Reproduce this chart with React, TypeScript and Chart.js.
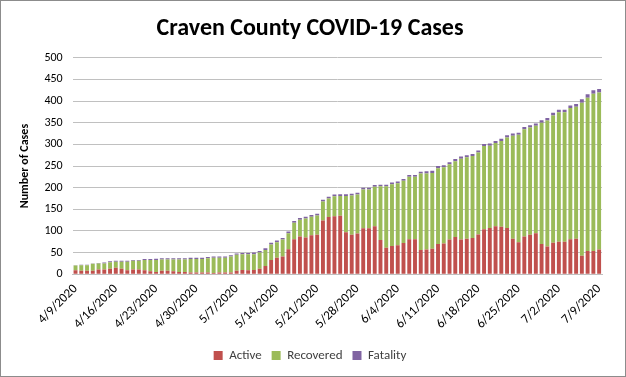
import React, { useEffect, useRef } from "react";
import { Chart, registerables } from "chart.js";

Chart.register(...registerables);

const dates: string[] = [
  "4/9/2020","4/10/2020","4/11/2020","4/12/2020","4/13/2020","4/14/2020","4/15/2020",
  "4/16/2020","4/17/2020","4/18/2020","4/19/2020","4/20/2020","4/21/2020","4/22/2020",
  "4/23/2020","4/24/2020","4/25/2020","4/26/2020","4/27/2020","4/28/2020","4/29/2020",
  "4/30/2020","5/1/2020","5/2/2020","5/3/2020","5/4/2020","5/5/2020","5/6/2020",
  "5/7/2020","5/8/2020","5/9/2020","5/10/2020","5/11/2020","5/12/2020","5/13/2020",
  "5/14/2020","5/15/2020","5/16/2020","5/17/2020","5/18/2020","5/19/2020","5/20/2020",
  "5/21/2020","5/22/2020","5/23/2020","5/24/2020","5/25/2020","5/26/2020","5/27/2020",
  "5/28/2020","5/29/2020","5/30/2020","5/31/2020","6/1/2020","6/2/2020","6/3/2020",
  "6/4/2020","6/5/2020","6/6/2020","6/7/2020","6/8/2020","6/9/2020","6/10/2020",
  "6/11/2020","6/12/2020","6/13/2020","6/14/2020","6/15/2020","6/16/2020","6/17/2020",
  "6/18/2020","6/19/2020","6/20/2020","6/21/2020","6/22/2020","6/23/2020","6/24/2020",
  "6/25/2020","6/26/2020","6/27/2020","6/28/2020","6/29/2020","6/30/2020","7/1/2020",
  "7/2/2020","7/3/2020","7/4/2020","7/5/2020","7/6/2020","7/7/2020","7/8/2020",
  "7/9/2020"
];

const active: number[] = [
  9, 8, 8, 8, 11, 11, 13, 15, 13, 9, 11, 11, 9, 7, 5, 8,
  8, 7, 5, 5, 4, 4, 4, 4, 3, 4, 4, 4, 8, 10,
  9, 10, 13, 19, 33, 38, 41, 58, 81, 87, 85, 90, 91, 124, 132, 134, 135,
  97, 91, 94, 106, 106, 111, 79, 61, 65, 67, 72, 81, 81, 56,
  57, 59, 70, 71, 80, 86, 80, 82, 84, 92, 104, 107, 111, 110, 107,
  82, 74, 87, 91, 95, 70, 64, 73, 75, 75, 81, 82, 43, 54, 54, 57
];

const totals: number[] = [
  21, 22, 22, 25, 26, 27, 30, 31, 31, 31, 33, 33, 35, 35, 36, 37,
  37, 37, 37, 37, 38, 38, 38, 40, 41, 41, 41, 44, 48, 49,
  49, 50, 54, 60, 73, 78, 84, 99, 123, 130, 133, 137, 140, 172, 179, 184, 185,
  185, 186, 188, 200, 200, 206, 207, 207, 212, 214, 220, 229, 229, 237,
  238, 239, 250, 252, 259, 266, 272, 275, 278, 286, 301, 302, 308, 313, 321,
  325, 327, 340, 344, 348, 356, 361, 373, 380, 380, 390, 393, 404, 416, 425, 428
];

const fatality: number[] = [
  1, 1, 1, 1, 1, 2, 2, 2, 2, 2, 2, 2, 2, 2, 3, 3,
  3, 3, 3, 3, 3, 3, 3, 3, 3, 3, 3, 3, 3, 3,
  3, 4, 4, 4, 4, 4, 4, 4, 4, 4, 4, 4, 4, 4, 4, 4, 4,
  4, 4, 4, 4, 4, 4, 4, 4, 4, 4, 4, 4, 4, 4,
  5, 5, 5, 5, 5, 5, 5, 5, 5, 5, 5, 5, 5, 5, 5,
  5, 5, 5, 5, 5, 6, 6, 6, 6, 6, 6, 6, 8, 8, 8, 8
];

const recovered: number[] = totals.map((t, i) => t - active[i] - fatality[i]);

const yTicks: number[] = [0, 50, 100, 150, 200, 250, 300, 350, 400, 450, 500];

const FONT = "Carlito, Lato, 'Liberation Sans', sans-serif";

export default function App() {
  const ref = useRef<HTMLCanvasElement | null>(null);
  useEffect(() => {
    document.body.style.margin = "0";
    if (!ref.current) return;
    const chart = new Chart(ref.current, {
      type: "bar",
      data: {
        labels: dates,
        datasets: [
          { label: "Active", data: active, backgroundColor: "#C0504D", barPercentage: 0.68, categoryPercentage: 1 },
          { label: "Recovered", data: recovered, backgroundColor: "#9BBB59", barPercentage: 0.68, categoryPercentage: 1 },
          { label: "Fatality", data: fatality, backgroundColor: "#8064A2", barPercentage: 0.68, categoryPercentage: 1 },
        ],
      },
      options: {
        animation: false,
        responsive: false,
        maintainAspectRatio: false,
        layout: { padding: { left: 17, right: 23, top: 8, bottom: 4 } },
        plugins: {
          title: {
            display: true,
            text: "Craven County COVID-19 Cases",
            color: "#000",
            font: { family: FONT, size: 24, weight: "bold" },
            padding: { top: 6, bottom: 14 },
          },
          legend: {
            position: "bottom",
            labels: {
              boxWidth: 9,
              boxHeight: 9,
              color: "#404040",
              font: { family: FONT, size: 13 },
              padding: 10,
            },
          },
          tooltip: { enabled: false },
        },
        scales: {
          x: {
            stacked: true,
            grid: { display: false, drawTicks: false },
            border: { display: true, color: "#bfbfbf" },
            ticks: {
              autoSkip: false,
              maxRotation: 45,
              minRotation: 45,
              color: "#000",
              font: { family: FONT, size: 13 },
              padding: 7,
              callback: (_v: any, i: number) => (i % 7 === 0 ? dates[i] : ""),
            },
          },
          y: {
            stacked: true,
            min: 0,
            max: 500,
            afterBuildTicks: (axis: any) => {
              axis.ticks = yTicks.map((v) => ({ value: v }));
            },
            grid: { color: "#c0c0c0", drawTicks: false },
            border: { display: false },
            ticks: {
              color: "#000",
              font: { family: FONT, size: 12 },
              padding: 10,
            },
            title: {
              display: true,
              text: "Number of Cases",
              color: "#000",
              font: { family: FONT, size: 12, weight: "bold" },
              padding: { top: 0, bottom: 2 },
            },
          },
        },
      },
    });
    return () => chart.destroy();
  }, []);
  return (
    <div style={{ width: 626, height: 377, border: "1px solid #8c8c8c", boxSizing: "border-box", background: "#fff" }}>
      <canvas ref={ref} width={624} height={375} style={{ display: "block" }} />
    </div>
  );
}
